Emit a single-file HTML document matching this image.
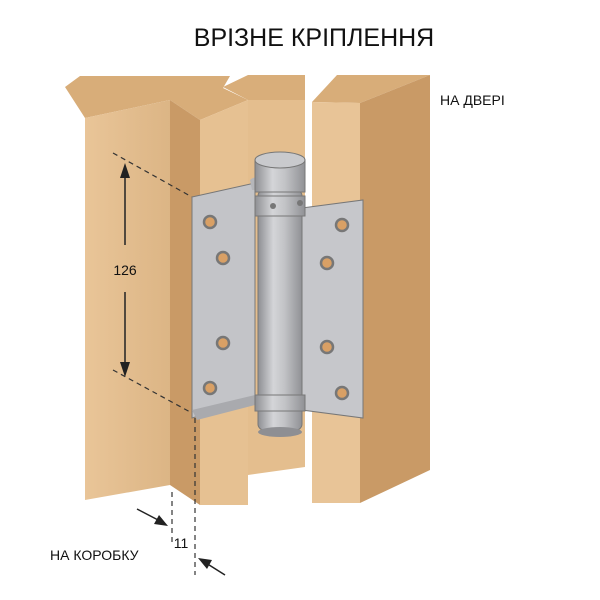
<!DOCTYPE html>
<html><head><meta charset="utf-8"><style>
body{margin:0;background:#fff;width:600px;height:600px;overflow:hidden}
svg{display:block}
text{font-family:"Liberation Sans",sans-serif}
</style></head><body>
<svg width="600" height="600" viewBox="0 0 600 600">
<defs>
<linearGradient id="bar" x1="0" x2="1"><stop offset="0" stop-color="#8e8f93"/><stop offset=".35" stop-color="#d4d5d8"/><stop offset=".6" stop-color="#c2c3c6"/><stop offset="1" stop-color="#909195"/></linearGradient>
<linearGradient id="wf" x1="0" x2="1"><stop offset="0" stop-color="#e9c598"/><stop offset="1" stop-color="#dcb585"/></linearGradient>
</defs>
<text x="314" y="46" font-size="25" text-anchor="middle" fill="#111">ВРІЗНЕ КРІПЛЕННЯ</text>
<text x="440" y="105" font-size="14" fill="#111">НА ДВЕРІ</text>
<text x="50" y="560" font-size="14" fill="#111">НА КОРОБКУ</text>

<polygon points="248,75 305,75 305,467 248,475" fill="#e4be8e"/>
<polygon points="223,87 248,75 305,75 305,100 248,100" fill="#d9ae7a"/>
<polygon points="65,87 80,76 230,76 223,88 248,100 248,100 200,120 170,100 85,118" fill="#d8ad79"/>
<polygon points="85,118 170,100 170,485 85,500" fill="url(#wf)"/>
<polygon points="170,100 200,120 200,505 170,485" fill="#c99a66"/>
<polygon points="200,120 248,100 248,505 200,505" fill="#e6c192"/>

<polygon points="312,102 337,75 430,75 360,103" fill="#d8ad79"/>
<polygon points="360,103 430,75 430,470 360,503" fill="#c99a66"/>
<polygon points="312,102 360,103 360,503 312,503" fill="#e8c497"/>

<g stroke="#333" stroke-width="1.2" stroke-dasharray="5,4" fill="none">
<line x1="113" y1="153" x2="192" y2="197"/>
<line x1="113" y1="370" x2="192" y2="413"/>
<line x1="172" y1="492" x2="172" y2="545"/>
<line x1="195" y1="418" x2="195" y2="575"/>
</g>

<polygon points="192,197 255,183 255,400 192,418" fill="#c3c4c8" stroke="#777" stroke-width="1"/>
<polygon points="192,410 255,395 255,405 197,420" fill="#a9aaae"/>
<polygon points="302,208 363,200 363,418 302,410" fill="#c6c7cb" stroke="#777" stroke-width="1"/>
<path d="M250,180 Q255,175 262,180 L262,190 L252,190 Z" fill="#b5b6ba"/>
<rect x="258" y="190" width="44" height="240" rx="6" fill="url(#bar)" stroke="#777"/>
<rect x="255" y="160" width="50" height="32" fill="url(#bar)" stroke="#777"/>
<ellipse cx="280" cy="160" rx="25" ry="8" fill="#c9cacd" stroke="#777"/>
<rect x="255" y="196" width="50" height="20" fill="url(#bar)" stroke="#777"/>
<rect x="255" y="395" width="50" height="16" fill="url(#bar)" stroke="#777"/>
<ellipse cx="280" cy="432" rx="22" ry="5" fill="#8e8f93"/>
<circle cx="273" cy="206" r="3" fill="#777"/><circle cx="300" cy="203" r="3" fill="#777"/>

<g fill="#d9a065" stroke="#777" stroke-width="2.5">
<circle cx="210" cy="222" r="6"/><circle cx="223" cy="258" r="6"/>
<circle cx="223" cy="343" r="6"/><circle cx="210" cy="388" r="6"/>
<circle cx="342" cy="225" r="6"/><circle cx="327" cy="263" r="6"/>
<circle cx="327" cy="347" r="6"/><circle cx="342" cy="393" r="6"/>
</g>

<g stroke="#222" stroke-width="1.5">
<line x1="125" y1="175" x2="125" y2="245"/>
<line x1="125" y1="292" x2="125" y2="365"/>
</g>
<polygon points="125,163 120,178 130,178" fill="#222"/>
<polygon points="125,377 120,362 130,362" fill="#222"/>
<text x="125" y="275" font-size="14" text-anchor="middle" fill="#111">126</text>

<line x1="137" y1="509" x2="160" y2="521" stroke="#222" stroke-width="1.5"/>
<polygon points="168,526 154,524 159,515" fill="#222"/>
<line x1="225" y1="575" x2="206" y2="563" stroke="#222" stroke-width="1.5"/>
<polygon points="198,558 212,560 207,569" fill="#222"/>
<text x="181" y="548" font-size="14" text-anchor="middle" fill="#111">11</text>
</svg>
</body></html>
